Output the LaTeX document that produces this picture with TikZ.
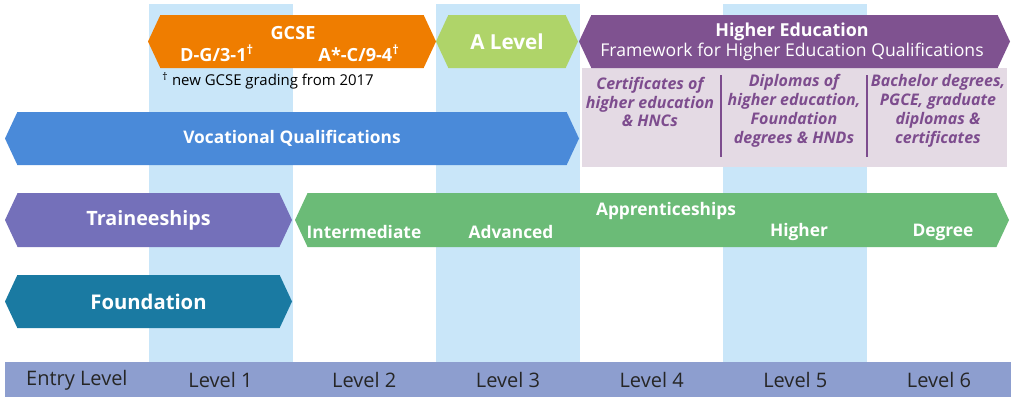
\documentclass[tikz,border=0pt]{standalone}
\usepackage{fontspec}
\setmainfont{Open Sans}
\usetikzlibrary{shapes.symbols}
\definecolor{colbg}{HTML}{C9E6F9}
\definecolor{gcseorange}{HTML}{EF7D00}
\definecolor{alevelgreen}{HTML}{AFD469}
\definecolor{hepurple}{HTML}{7F5290}
\definecolor{heboxpink}{HTML}{E4DAE4}
\definecolor{hetext}{HTML}{7D4C8E}
\definecolor{vocblue}{HTML}{4A8AD9}
\definecolor{traineepurple}{HTML}{7470BA}
\definecolor{appgreen}{HTML}{6BBB77}
\definecolor{foundteal}{HTML}{1A7AA2}
\definecolor{levelbar}{HTML}{8D9ECF}
\begin{document}
\begin{tikzpicture}[x=0.75pt,y=-0.75pt,
    bar/.style={signal, signal to=west and east, signal pointer angle=130,
      inner sep=0pt, minimum height=53*0.75pt, text=white,
      font=\bfseries\fontsize{13}{15}\selectfont},
    bartext/.style={inner sep=0pt, text=white, font=\bfseries\fontsize{13}{15}\selectfont},
    hetextstyle/.style={inner sep=0pt, text=hetext, align=center,
      font=\bfseries\itshape\fontsize{12}{14.2}\selectfont},
    levellabel/.style={inner sep=0pt, text=black!85, font=\fontsize{15}{17}\selectfont}]
    \useasboundingbox (0,0) rectangle (1014,397);
    \foreach \x in {149,436,723}
      \fill [colbg] (\x,4) rectangle ++(143.5,358);
    \fill [levelbar] (5,362) rectangle (1011,397);
    \foreach \i/\t in {0/Entry Level,1/Level 1,2/Level 2,3/Level 3,4/Level 4,5/Level 5,6/Level 6}
      \node [levellabel] (lvl\i) at (76.85+143.7*\i,380) {\t};
    \node [bar, fill=gcseorange, minimum width=288*0.75pt] (gcse) at (292,41.5) {};
    \node [bartext, font=\bfseries\fontsize{13.6}{15}\selectfont] (gcsetitle) at (293,33) {GCSE};
    \node [bartext, font=\bfseries\fontsize{13.6}{15}\selectfont] (gcselow) at (217,53) {D-G/3-1\textsuperscript{\dag}};
    \node [bartext, font=\bfseries\fontsize{13.6}{15}\selectfont] (gcsehigh) at (359,53) {A*-C/9-4\textsuperscript{\dag}};
    \node [inner sep=0pt, anchor=west, font=\fontsize{11.2}{13}\selectfont] (gcsenote) at (162,81) {\textsuperscript{\dag} new GCSE grading from 2017};
    \node [bar, fill=alevelgreen, minimum width=142*0.75pt, font=\bfseries\fontsize{15.5}{17}\selectfont] (alevel) at (507,41.5) {A Level};
    \node [fill=heboxpink, inner sep=0pt, minimum width=425*0.75pt, minimum height=99*0.75pt] (hebox) at (794.5,117.5) {};
    \node [bar, fill=hepurple, minimum width=431*0.75pt] (he) at (794.5,41.5) {};
    \node [bartext, font=\bfseries\fontsize{13.4}{15}\selectfont] (hetitle) at (792,32) {Higher Education};
    \node [bartext, font=\fontsize{13.2}{15}\selectfont] (hesub) at (792,52) {Framework for Higher Education Qualifications};
    \draw [hetext, line width=1.5*0.75pt] (721,75) -- (721,157);
    \draw [hetext, line width=1.5*0.75pt] (867,75) -- (867,157);
    \node [hetextstyle] (hecert) at (650,102) {Certificates of\\higher education\\\& HNCs};
    \node [hetextstyle] (hedip) at (794,111) {Diplomas of\\higher education,\\Foundation\\degrees \& HNDs};
    \node [hetextstyle] (hebach) at (938,111) {Bachelor degrees,\\PGCE, graduate\\diplomas \&\\certificates};
    \node [bar, fill=vocblue, minimum width=574*0.75pt] (voc) at (292,138.5) {Vocational Qualifications};
    \node [bar, fill=traineepurple, minimum width=287*0.75pt, minimum height=54*0.75pt, font=\bfseries\fontsize{14.8}{16}\selectfont] (trainee) at (148.5,220) {Traineeships};
    \node [bar, fill=appgreen, minimum width=714*0.75pt, minimum height=54*0.75pt] (app) at (652,220) {};
    \node [bartext] (apptitle) at (666,211) {Apprenticeships};
    \node [bartext] (appint) at (364,232) {Intermediate};
    \node [bartext] (appadv) at (511,232) {Advanced};
    \node [bartext] (apphigh) at (799,232) {Higher};
    \node [bartext] (appdeg) at (943,232) {Degree};
    \node [bar, fill=foundteal, minimum width=287*0.75pt, font=\bfseries\fontsize{15.2}{17}\selectfont] (found) at (148.5,301.5) {Foundation};
\end{tikzpicture}
\end{document}
